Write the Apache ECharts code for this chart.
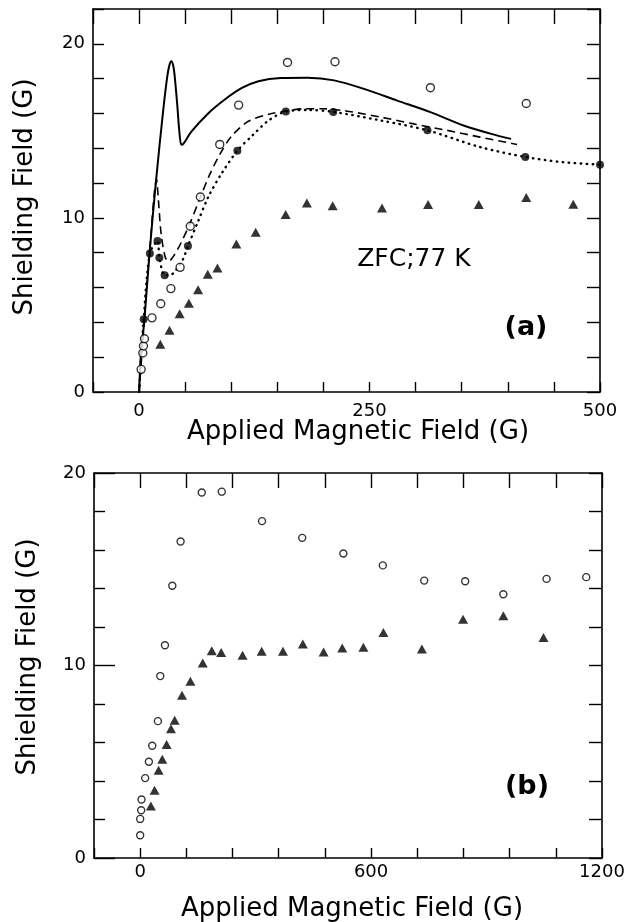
<!DOCTYPE html>
<html>
<head>
<meta charset="utf-8">
<script src="https://cdn.jsdelivr.net/npm/echarts@6/dist/echarts.min.js"></script>
<style>
html,body{margin:0;padding:0;background:#fff;}
#c{width:629px;height:922px;}
</style>
</head>
<body>
<div id="c"></div>
<script>
// ---- Panel (a) data (Applied field G, shielding field G) ----
const topOpen = [[2.2,1.3],[4,2.24],[4.7,2.64],[5.8,3.06],[14,4.26],[23.5,5.07],[34.5,5.94],[44.5,7.16],[55.5,9.52],[66.5,11.2],[87.5,14.22],[108,16.48],[161,18.93],[212.5,18.97],[316,17.48],[420,16.57]];
const topFilled = [[5,4.18],[11.7,7.96],[20,8.68],[22,7.71],[27.7,6.7],[53,8.38],[106.6,13.86],[159.2,16.11],[210.6,16.09],[312.8,15.03],[419,13.5],[500,13.06]];
const topTri = [[23,2.75],[33,3.55],[44,4.5],[54,5.1],[64,5.88],[74.5,6.77],[85,7.12],[105.5,8.5],[126.5,9.17],[159,10.2],[182,10.86],[210,10.7],[263.5,10.57],[313.5,10.77],[368.5,10.77],[420,11.17],[471,10.78]];
const solidCurve = [[0,0],[2,2.2],[5.7,4.1],[11.2,7.9],[18.5,12.2],[25.8,16.0],[30.5,18.1],[33,18.8],[35,19.0],[37,18.75],[38.5,18.2],[41.4,16.5],[43.6,15.0],[45.8,14.2],[48,14.25],[56.7,14.95],[74.9,16.0],[93,16.8],[111,17.45],[129.5,17.85],[154,18.03],[182.8,18.05],[211.6,17.9],[244,17.41],[280,16.74],[316,16.08],[352,15.31],[388,14.74],[403.6,14.54]];
const dashedCurve = [[0,0],[5.7,4.1],[11.2,7.9],[19,12.2],[21,11.0],[23.9,9.1],[28.3,7.75],[32,7.5],[38.5,7.9],[45.8,8.6],[54.9,9.65],[65.8,11.1],[76.7,12.5],[87.7,13.66],[100.4,14.7],[118.6,15.55],[140.5,15.95],[160,16.15],[180,16.27],[200,16.27],[226,16.13],[262,15.79],[298,15.4],[334,15.03],[370,14.64],[410,14.22]];
const dottedCurve = [[0,0],[5,4.18],[11.7,7.96],[20,8.68],[22,7.71],[27.7,6.7],[33,6.7],[38.5,6.9],[47.4,7.6],[53,8.38],[64,9.8],[75,11.2],[89.5,12.55],[106.6,13.86],[122.3,14.7],[140.5,15.6],[159.2,16.11],[185,16.2],[210.6,16.09],[262,15.6],[312.8,15.03],[370,14.07],[419,13.5],[460,13.2],[500,13.06]];

// ---- Panel (b) data ----
const botOpen = [[0,1.18],[0,2.03],[2.6,2.48],[3.5,3.04],[13,4.15],[22.6,5.0],[31.3,5.83],[46,7.11],[52.2,9.45],[64.4,11.05],[83.5,14.14],[105,16.44],[160,18.99],[212,19.03],[316.6,17.5],[421,16.63],[528,15.82],[630.5,15.2],[738,14.41],[844.5,14.38],[943.7,13.7],[1056,14.5],[1159,14.59]];
const botTri = [[27.8,2.7],[37.4,3.52],[47.8,4.56],[57.4,5.13],[68.7,5.9],[80,6.71],[89.6,7.16],[108.7,8.46],[130.5,9.18],[162.6,10.13],[186,10.77],[210.5,10.67],[266,10.53],[315.7,10.74],[371,10.74],[422.7,11.12],[476.6,10.7],[525,10.91],[580,10.95],[632,11.71],[732,10.86],[839,12.4],[943.7,12.58],[1048,11.45]];

// ---- Axis tick labels ----
const topXLabels = [0, 250, 500];
const botXLabels = [0, 600, 1200];
const yLabels = [0, 10, 20];

const FONT = 'DejaVu Sans';
const BLACK = '#000';

function xAxisSet(grid, min, max, interval, labels, margin) {
  return [
    {
      type: 'value', gridIndex: grid, min: min, max: max, interval: interval, position: 'bottom',
      axisLine: {show: true, onZero: false, lineStyle: {color: BLACK, width: 1.6}},
      axisTick: {show: true, inside: true, length: 10, lineStyle: {color: BLACK, width: 1.4}},
      axisLabel: {show: true, margin: margin, color: BLACK, fontFamily: FONT, fontSize: 18,
        formatter: v => labels.indexOf(v) >= 0 ? String(v) : ''},
      splitLine: {show: false}
    },
    {
      type: 'value', gridIndex: grid, min: min, max: max, interval: interval, position: 'top',
      axisLine: {show: true, onZero: false, lineStyle: {color: BLACK, width: 1.6}},
      axisTick: {show: true, inside: true, length: 15, lineStyle: {color: BLACK, width: 1.4}},
      axisLabel: {show: false},
      splitLine: {show: false}
    }
  ];
}
function rightAxis(grid, max) {
  return {
    type: 'value', gridIndex: grid, min: 0, max: max, interval: 2, position: 'right',
    axisLine: {show: true, onZero: false, lineStyle: {color: BLACK, width: 1.6}},
    axisTick: {show: true, inside: true, length: 13, lineStyle: {color: BLACK, width: 1.4}},
    axisLabel: {show: false},
    splitLine: {show: false}
  };
}
const yLabelStyle = {show: true, margin: 8, color: BLACK, fontFamily: FONT, fontSize: 18,
  formatter: v => yLabels.indexOf(v) >= 0 ? String(v) : ''};

const xAxes = [].concat(
  xAxisSet(0, -50, 500, 50, topXLabels, 10),
  xAxisSet(1, -120, 1200, 120, botXLabels, 5)
);
const yAxes = [
  {
    type: 'value', gridIndex: 0, min: 0, max: 22, interval: 2, position: 'left',
    axisLine: {show: true, onZero: false, lineStyle: {color: BLACK, width: 1.6}},
    axisTick: {show: true, inside: true, length: 11, lineStyle: {color: BLACK, width: 1.4}},
    axisLabel: yLabelStyle,
    splitLine: {show: false}
  },
  rightAxis(0, 22),
  {
    type: 'value', gridIndex: 1, min: 0, max: 20, interval: 10, position: 'left',
    axisLine: {show: true, onZero: false, lineStyle: {color: BLACK, width: 1.6}},
    axisTick: {show: true, inside: true, length: 21, lineStyle: {color: BLACK, width: 1.4}},
    minorTick: {show: true, splitNumber: 5, length: 11, lineStyle: {color: BLACK, width: 1.4}},
    axisLabel: yLabelStyle,
    splitLine: {show: false}
  },
  rightAxis(1, 20)
];

function openSeries(data, xi, yi, size) {
  return {type: 'scatter', xAxisIndex: xi, yAxisIndex: yi, data: data, symbol: 'circle', symbolSize: size,
    itemStyle: {color: '#fff', borderColor: BLACK, borderWidth: 1.4}, z: 5, clip: false};
}
function filledSeries(data, xi, yi, size) {
  return {type: 'scatter', xAxisIndex: xi, yAxisIndex: yi, data: data, symbol: 'circle', symbolSize: size,
    itemStyle: {color: BLACK}, z: 6, clip: false};
}
function triSeries(data, xi, yi, size) {
  return {type: 'scatter', xAxisIndex: xi, yAxisIndex: yi, data: data, symbol: 'triangle', symbolSize: size,
    itemStyle: {color: BLACK}, z: 5, clip: false};
}
function curve(data, width, dash, cap) {
  return {type: 'line', xAxisIndex: 0, yAxisIndex: 0, data: data, showSymbol: false, smooth: 0.3,
    lineStyle: {color: BLACK, width: width, type: dash, cap: cap || 'butt'}, z: 3, silent: true};
}

const option = {
  animation: false,
  backgroundColor: '#fff',
  grid: [
    {left: 93, top: 9, width: 507, height: 383},
    {left: 94, top: 473, width: 508, height: 385}
  ],
  xAxis: xAxes,
  yAxis: yAxes,
  series: [
    curve(solidCurve, 2, 'solid'),
    curve(dashedCurve, 1.6, [8, 5]),
    curve(dottedCurve, 2.4, [0.5, 5.5], 'round'),
    openSeries(topOpen, 0, 0, 8),
    filledSeries(topFilled, 0, 0, 8),
    triSeries(topTri, 0, 0, [10, 9]),
    openSeries(botOpen, 2, 2, 7),
    triSeries(botTri, 2, 2, [10, 9])
  ],
  graphic: [
    {type: 'text', x: 25, y: 197, rotation: Math.PI / 2,
      style: {text: 'Shielding Field (G)', fontFamily: FONT, fontSize: 26, fill: BLACK, align: 'center', verticalAlign: 'middle'}},
    {type: 'text', x: 28, y: 657, rotation: Math.PI / 2,
      style: {text: 'Shielding Field (G)', fontFamily: FONT, fontSize: 26, fill: BLACK, align: 'center', verticalAlign: 'middle'}},
    {type: 'text', x: 358, y: 432,
      style: {text: 'Applied Magnetic Field (G)', fontFamily: FONT, fontSize: 26, fill: BLACK, align: 'center', verticalAlign: 'middle'}},
    {type: 'text', x: 352, y: 909,
      style: {text: 'Applied Magnetic Field (G)', fontFamily: FONT, fontSize: 26, fill: BLACK, align: 'center', verticalAlign: 'middle'}},
    {type: 'text', x: 414, y: 259,
      style: {text: 'ZFC;77 K', fontFamily: FONT, fontSize: 25, fill: BLACK, align: 'center', verticalAlign: 'middle'}},
    {type: 'text', x: 526, y: 328,
      style: {text: '(a)', fontFamily: FONT, fontSize: 27, fontWeight: 'bold', fill: BLACK, align: 'center', verticalAlign: 'middle'}},
    {type: 'text', x: 527, y: 787,
      style: {text: '(b)', fontFamily: FONT, fontSize: 27, fontWeight: 'bold', fill: BLACK, align: 'center', verticalAlign: 'middle'}}
  ]
};

const chart = echarts.init(document.getElementById('c'), null, {renderer: 'canvas'});
chart.setOption(option);
</script>
</body>
</html>
